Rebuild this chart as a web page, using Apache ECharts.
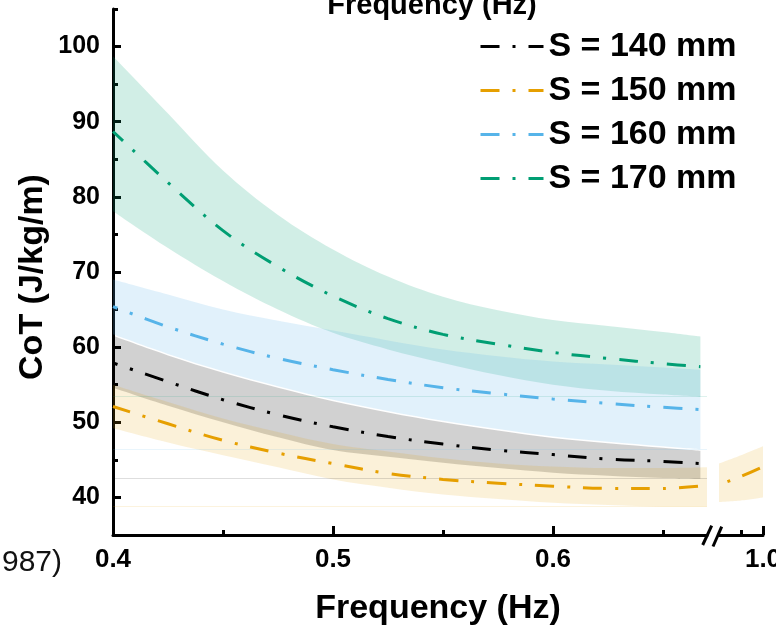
<!DOCTYPE html>
<html><head><meta charset="utf-8">
<script src="https://cdn.jsdelivr.net/npm/echarts@6/dist/echarts.min.js"></script>
<style>html,body{margin:0;padding:0;background:#fff}#c{width:776px;height:629px}</style>
</head><body><div id="c"></div>
<script>
// ---------- data ----------
const freqMain    = [0.40, 0.425, 0.45, 0.475, 0.50, 0.525, 0.55, 0.575, 0.60, 0.625, 0.65, 0.667];
const freq150Main = [0.40, 0.425, 0.45, 0.475, 0.50, 0.525, 0.55, 0.575, 0.60, 0.625, 0.65, 0.67];
const freqTail    = [0.90, 0.95, 1.00];

const cot140      = [57.9, 55.4, 53.0, 51.0, 49.4, 48.1, 47.1, 46.3, 45.7, 45.1, 44.8, 44.5];
const cot140Upper = [61.5, 58.9, 56.6, 54.6, 52.8, 51.3, 50.0, 48.9, 47.9, 47.2, 46.6, 46.2];
const cot140Lower = [54.6, 52.2, 50.0, 48.0, 46.3, 45.4, 44.6, 43.9, 43.3, 42.9, 42.6, 42.5];

const cot150      = [52.1, 49.8, 47.6, 45.9, 44.5, 43.2, 42.4, 41.9, 41.5, 41.2, 41.2, 41.6];
const cot150Upper = [55.0, 52.7, 50.5, 48.7, 47.1, 46.1, 45.2, 44.5, 44.1, 43.9, 43.9, 44.0];
const cot150Lower = [49.2, 47.3, 45.6, 44.0, 42.4, 41.3, 40.4, 39.8, 39.3, 39.0, 38.8, 38.8];
const cot150Tail      = [41.7, 42.8, 44.1];
const cot150TailUpper = [44.5, 45.6, 46.8];
const cot150TailLower = [39.4, 39.6, 40.0];

const cot160      = [65.4, 62.7, 60.4, 58.5, 57.0, 55.7, 54.6, 53.8, 53.1, 52.5, 52.0, 51.7];
const cot160Upper = [69.0, 67.0, 65.0, 63.5, 62.2, 60.9, 59.7, 58.8, 58.1, 57.7, 57.3, 57.0];
const cot160Lower = [61.7, 59.1, 56.8, 54.8, 53.0, 51.5, 50.2, 49.1, 48.1, 47.4, 46.8, 46.4];

const cot170      = [88.7, 81.9, 75.5, 70.7, 66.8, 63.8, 61.7, 60.4, 59.3, 58.5, 57.8, 57.4];
const cot170Upper = [98.7, 91.1, 83.5, 77.6, 73.0, 69.4, 66.7, 64.9, 63.6, 62.8, 62.0, 61.4];
const cot170Lower = [78.1, 73.2, 68.8, 65.0, 61.9, 59.7, 57.9, 56.3, 55.0, 54.2, 53.7, 53.4];

const seriesNames = ['S = 140 mm', 'S = 150 mm', 'S = 160 mm', 'S = 170 mm'];
const yTickValues      = [40, 50, 60, 70, 80, 90, 100];
const yMinorTickValues = [35, 45, 55, 65, 75, 85, 95, 105];
const xTickMain        = [0.4, 0.5, 0.6];
const xMinorTickMain   = [0.45, 0.55, 0.65];
const xTickTail        = [1.0];
const xMinorTickTail   = [0.95];

// ---------- styling ----------
const FONT = "'Liberation Sans', Arial, sans-serif";
const COL = {140: '#000000', 150: '#E69F00', 160: '#56B4E9', 170: '#009E73'};
const DASH = [19, 13, 3, 13];
const SMOOTH = 0.35;

const chart = echarts.init(document.getElementById('c'), null, {renderer: 'canvas'});

function pairs(xs, ys) { return xs.map((x, i) => [x, ys[i]]); }
// band rows are [value, frequency] so that the stacked dimension is the value (y)
function valueFirst(xs, ys) { return xs.map((x, i) => [ys[i], x]); }
function diffs(lo, hi) { return hi.map((h, i) => +(h - lo[i]).toFixed(3)); }

function band(id, xs, lo, hi, color, alpha, xi, yi, baseline) {
  const lower = {
    type: 'line', name: id + '_lo', xAxisIndex: xi, yAxisIndex: yi, stack: id,
    data: valueFirst(xs, lo), encode: {x: 1, y: 0},
    smooth: SMOOTH, symbol: 'none', silent: true, z: 1,
    lineStyle: {opacity: 0}
  };
  if (baseline) {
    lower.markLine = {
      silent: true, symbol: 'none', label: {show: false},
      lineStyle: {color: color, opacity: 0.13, width: 1, type: 'solid'},
      data: [{yAxis: lo[lo.length - 1]}]
    };
  }
  const upper = {
    type: 'line', name: id + '_band', xAxisIndex: xi, yAxisIndex: yi, stack: id,
    data: valueFirst(xs, diffs(lo, hi)), encode: {x: 1, y: 0},
    smooth: SMOOTH, symbol: 'none', silent: true, z: 1,
    lineStyle: {opacity: 0}, areaStyle: {color: color, opacity: alpha}
  };
  return [lower, upper];
}
function curve(name, xs, ys, color, xi, yi, phase) {
  return {
    type: 'line', name: name, xAxisIndex: xi, yAxisIndex: yi,
    data: pairs(xs, ys), smooth: SMOOTH, symbol: 'none', z: 5,
    lineStyle: {color: color, width: 3, type: DASH, dashOffset: phase, cap: 'butt'},
    itemStyle: {color: color}
  };
}

const series = [].concat(
  band('b170', freqMain, cot170Lower, cot170Upper, COL[170], 0.18, 0, 0, true),
  band('b160', freqMain, cot160Lower, cot160Upper, COL[160], 0.18, 0, 0, true),
  band('b140', freqMain, cot140Lower, cot140Upper, COL[140], 0.18, 0, 0, true),
  band('b150', freq150Main, cot150Lower, cot150Upper, COL[150], 0.15, 0, 0, true),
  band('b150t', freqTail, cot150TailLower, cot150TailUpper, COL[150], 0.15, 2, 2, false),
  [
    curve(seriesNames[0], freqMain, cot140, COL[140], 0, 0, 14),
    curve(seriesNames[1], freq150Main, cot150, COL[150], 0, 0, 1),
    curve(seriesNames[2], freqMain, cot160, COL[160], 0, 0, 14),
    curve(seriesNames[3], freqMain, cot170, COL[170], 0, 0, 5),
    curve(seriesNames[1], freqTail, cot150Tail, COL[150], 2, 2, 23)
  ]
);

const axisLineStyle = {color: '#000', width: 3};
const tickLabel = {fontSize: 26, fontWeight: 'bold', color: '#000', fontFamily: FONT};

const option = {
  backgroundColor: '#fff',
  animation: false,
  grid: [
    {left: 113, top: 9, width: 594, height: 526, outerBoundsMode: 'none', containLabel: false},
    {left: 719, top: 9, width: 44, height: 526, outerBoundsMode: 'none', containLabel: false}
  ],
  legend: {
    data: seriesNames, orient: 'vertical', left: 474, top: 24.5,
    itemWidth: 63, itemHeight: 14, itemGap: 10,
    lineStyle: {width: 3, dashOffset: 0},
    itemStyle: {opacity: 0},
    textStyle: {fontSize: 34, fontWeight: 'bold', color: '#000', fontFamily: FONT}
  },
  xAxis: [
    {gridIndex: 0, type: 'value', min: 0.4, max: 0.67, position: 'bottom',
     axisLine: {onZero: false, lineStyle: axisLineStyle},
     axisTick: {inside: true, length: 9, lineStyle: axisLineStyle, customValues: xTickMain},
     axisLabel: Object.assign({customValues: xTickMain, margin: 12, formatter: v => v.toFixed(1)}, tickLabel),
     splitLine: {show: false}},
    {gridIndex: 0, type: 'value', min: 0.4, max: 0.67, position: 'bottom',
     axisLine: {show: false},
     axisTick: {inside: true, length: 5, lineStyle: axisLineStyle, customValues: xMinorTickMain},
     axisLabel: {show: false}, splitLine: {show: false}},
    {gridIndex: 1, type: 'value', min: 0.9, max: 1.0, position: 'bottom',
     axisLine: {onZero: false, lineStyle: axisLineStyle},
     axisTick: {inside: true, length: 9, lineStyle: axisLineStyle, customValues: xTickTail},
     axisLabel: Object.assign({customValues: xTickTail, margin: 12, formatter: v => v.toFixed(1)}, tickLabel),
     splitLine: {show: false}},
    {gridIndex: 1, type: 'value', min: 0.9, max: 1.0, position: 'bottom',
     axisLine: {show: false},
     axisTick: {inside: true, length: 5, lineStyle: axisLineStyle, customValues: xMinorTickTail},
     axisLabel: {show: false}, splitLine: {show: false}}
  ],
  yAxis: [
    {gridIndex: 0, type: 'value', min: 35, max: 105, position: 'left',
     axisLine: {show: true, onZero: false, lineStyle: axisLineStyle},
     axisTick: {show: true, inside: true, length: 8, lineStyle: axisLineStyle, customValues: yTickValues},
     axisLabel: Object.assign({customValues: yTickValues, margin: 13}, tickLabel, {fontSize: 25}),
     splitLine: {show: false}},
    {gridIndex: 0, type: 'value', min: 35, max: 105, position: 'left',
     axisLine: {show: false},
     axisTick: {show: true, inside: true, length: 5, lineStyle: axisLineStyle, customValues: yMinorTickValues},
     axisLabel: {show: false}, splitLine: {show: false}},
    {gridIndex: 1, type: 'value', min: 35, max: 105, show: false}
  ],
  series: series
};
chart.setOption(option);

// decorations: axis titles, cropped texts and the axis-break marks
const e = chart.convertToPixel({xAxisIndex: 0, yAxisIndex: 0}, [0.67, 35]);
const ex = e[0], ey = e[1];
chart.setOption({
  graphic: [
    {type: 'text', x: 438, y: 609, style: {text: 'Frequency (Hz)', font: "bold 34px " + FONT, fill: '#000', align: 'center', verticalAlign: 'middle'}},
    {type: 'text', x: 432, y: 6, style: {text: 'Frequency (Hz)', font: "bold 29px " + FONT, fill: '#000', align: 'center', verticalAlign: 'middle'}},
    {type: 'text', x: 33, y: 277, rotation: Math.PI / 2, style: {text: 'CoT (J/kg/m)', font: "bold 34px " + FONT, fill: '#000', align: 'center', verticalAlign: 'middle'}},
    {type: 'text', x: 62, y: 563, style: {text: '987)', font: "30px " + FONT, fill: '#111', align: 'right', verticalAlign: 'middle'}},
    {type: 'line', shape: {x1: ex - 4.3, y1: ey + 10, x2: ex + 4.7, y2: ey - 9.3}, style: {stroke: '#000', lineWidth: 3}},
    {type: 'line', shape: {x1: ex + 6, y1: ey + 11.5, x2: ex + 14.7, y2: ey - 8.3}, style: {stroke: '#000', lineWidth: 3}}
  ]
});
</script>
</body></html>
